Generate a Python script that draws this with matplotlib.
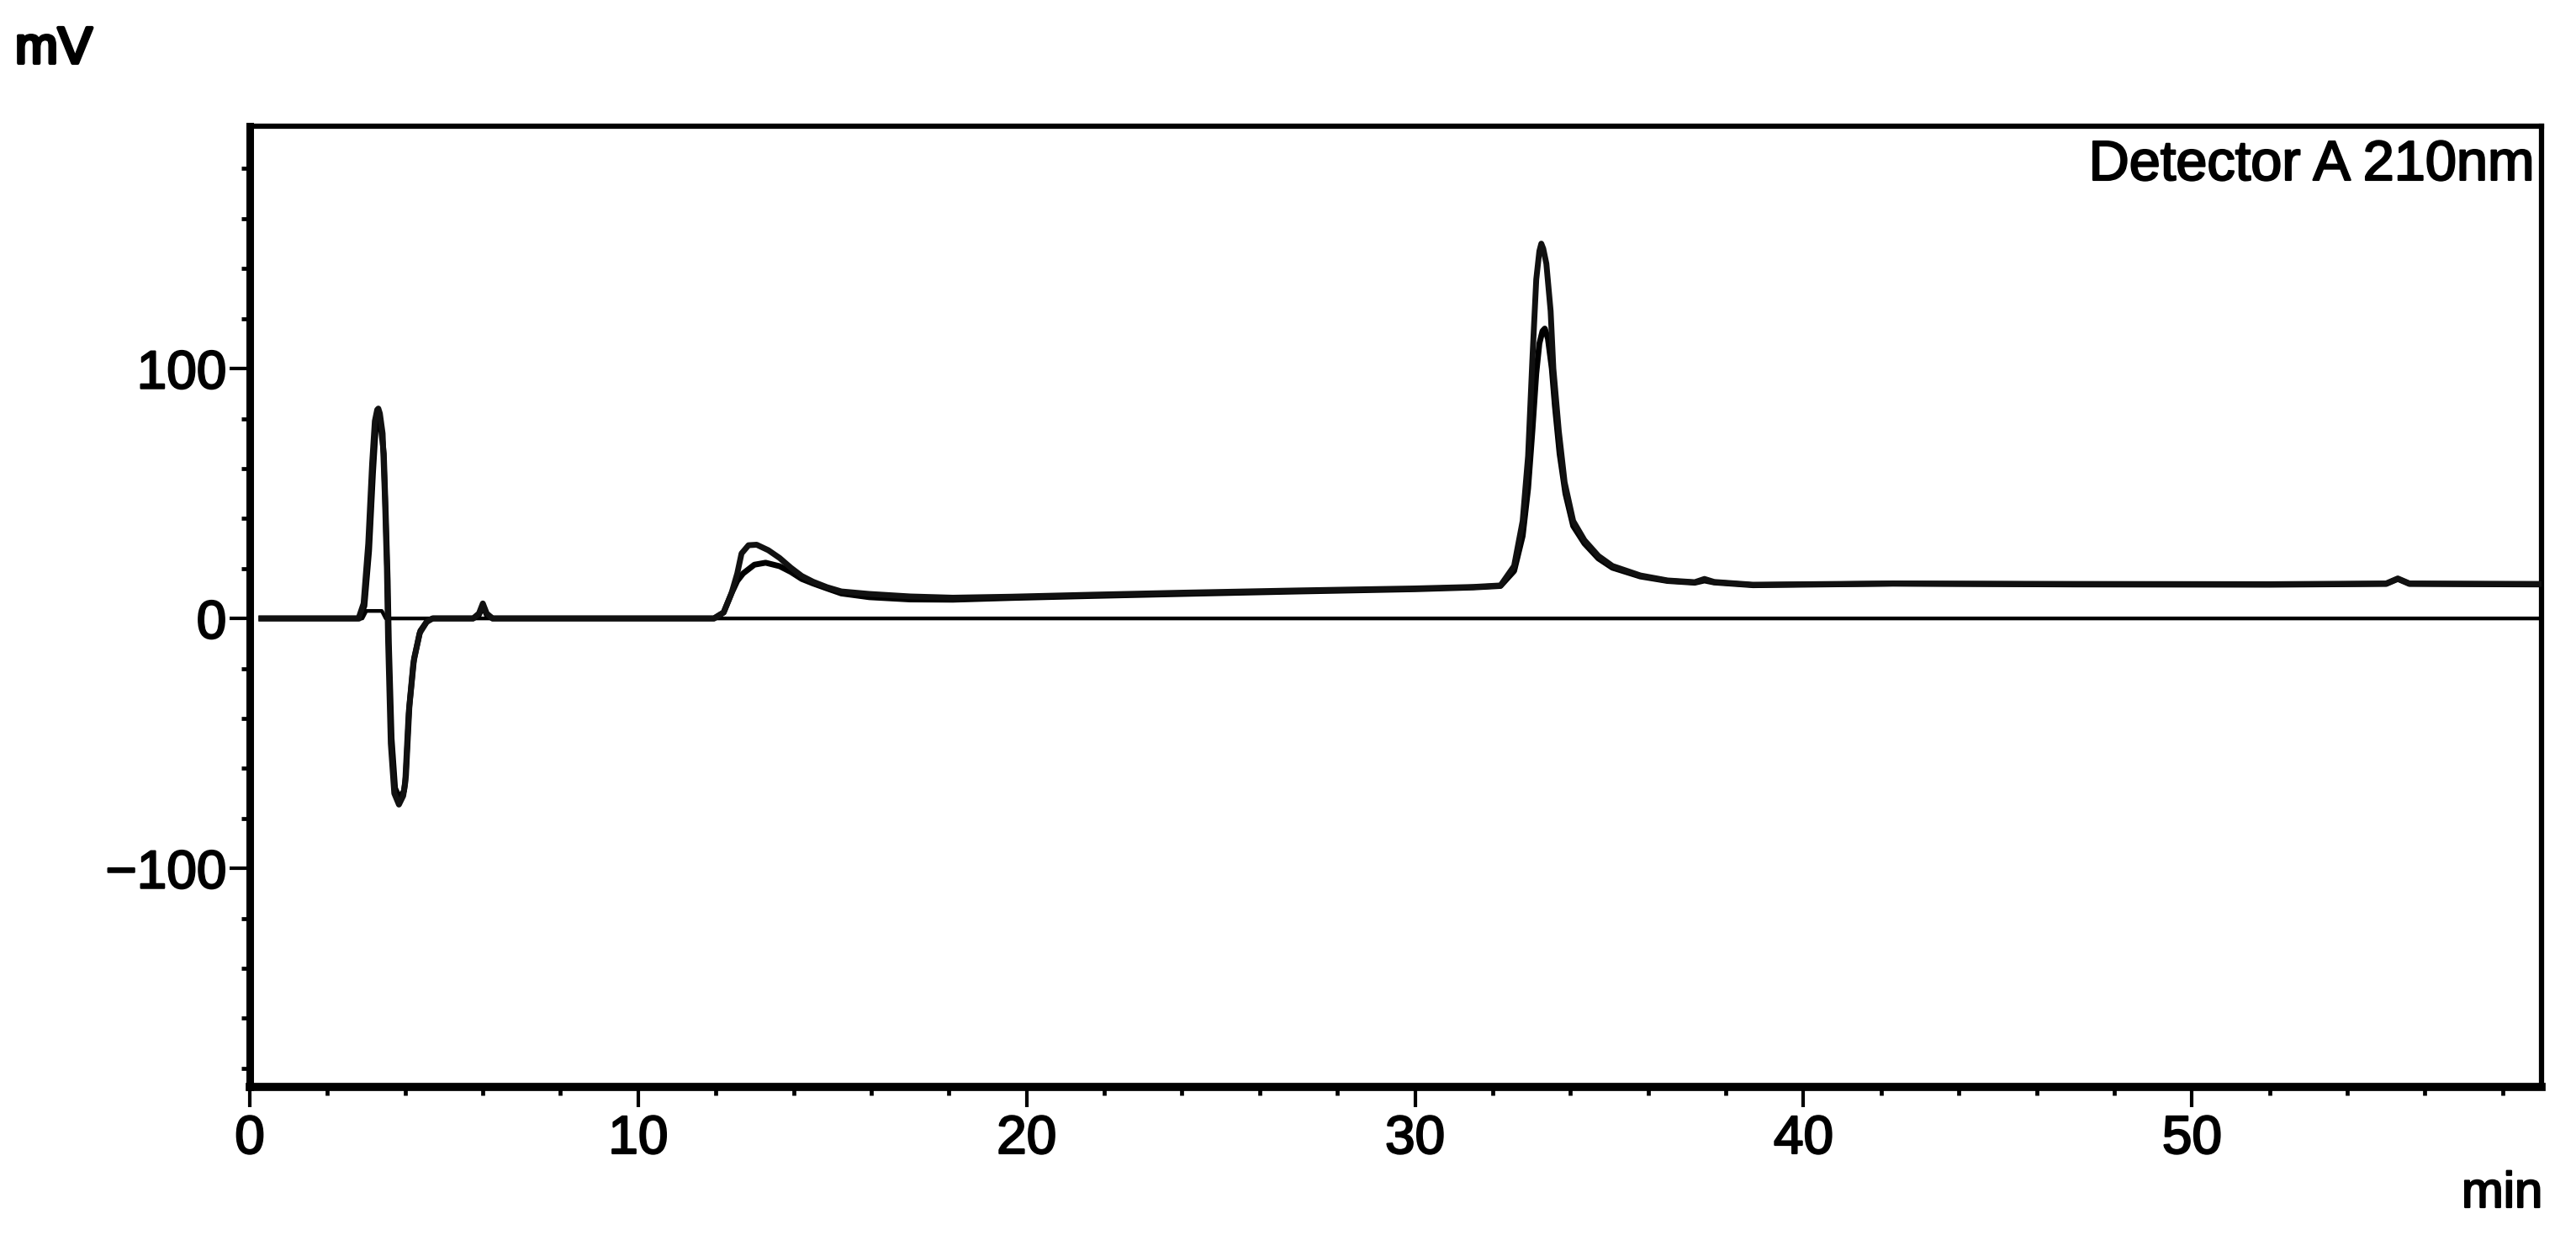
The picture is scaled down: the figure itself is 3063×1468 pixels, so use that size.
import matplotlib
matplotlib.use("Agg")
import matplotlib.pyplot as plt
import matplotlib.patheffects as pe
from matplotlib.ticker import MultipleLocator

plt.rcParams['font.family'] = ['Liberation Sans', 'DejaVu Sans']

# ---- data ----
time_a = [0.3, 2.8, 2.93, 3.05, 3.15, 3.22, 3.28, 3.31, 3.35, 3.42, 3.48, 3.53, 3.56, 3.63,
          3.72, 3.84, 3.95, 4.0, 4.09, 4.21, 4.37, 4.55, 4.7, 5.75, 5.9, 6.0, 6.1, 6.25,
          11.95, 12.2, 12.4, 12.55, 12.66, 12.84, 13.05, 13.35, 13.64, 13.93, 14.21, 14.5,
          14.86, 15.23, 15.95, 17.0, 18.1, 19.6, 21.7, 24.0, 27.0, 30.0, 31.5, 32.2, 32.55,
          32.77, 32.91, 33.02, 33.12, 33.2, 33.25, 33.3, 33.38, 33.49, 33.56, 33.7, 33.85,
          34.07, 34.36, 34.72, 35.08, 35.8, 36.5, 37.2, 37.45, 37.7, 38.7, 42.3, 47.0, 52.0,
          55.0, 55.3, 55.6, 59.0]
signal_a = [0, 0, 6, 30, 62, 79, 83.5, 84, 82, 74, 48, 20, -8, -50,
            -70, -74.5, -71, -66, -38, -18, -6, -1.5, 0, 0, 2, 6, 2, 0,
            0, 2.4, 10, 18, 26, 29.3, 29.5, 27.3, 24.2, 20.3, 17, 14.7,
            12.5, 10.8, 9.8, 8.8, 8.3, 8.7, 9.5, 10.3, 11.2, 12.0, 12.6, 13.2, 21,
            39, 65, 103.5, 135.7, 147, 150, 148, 142, 123, 100, 75, 54.5,
            39, 31.3, 25, 21, 17.2, 15.2, 14.5, 15.8, 14.6, 13.5, 14.0, 13.8, 13.7,
            14.0, 16.0, 14.0, 13.8]

time_b = [0.3, 2.82, 2.95, 3.07, 3.17, 3.24, 3.3, 3.34, 3.38, 3.45, 3.5, 3.55, 3.58, 3.65,
          3.74, 3.86, 3.97, 4.02, 4.11, 4.23, 4.39, 4.57, 4.72, 5.75, 5.9, 6.0, 6.1, 6.25,
          11.95, 12.2, 12.4, 12.55, 12.7, 12.99, 13.28, 13.64, 13.93, 14.21, 14.5, 14.86,
          15.23, 15.95, 17.0, 18.1, 19.6, 21.7, 24.0, 27.0, 30.0, 31.5, 32.2, 32.55, 32.77,
          32.91, 33.02, 33.12, 33.2, 33.28, 33.34, 33.42, 33.52, 33.6, 33.72, 33.87, 34.07,
          34.36, 34.72, 35.08, 35.8, 36.5, 37.2, 37.45, 37.7, 38.7, 42.3, 47.0, 52.0,
          55.0, 55.3, 55.6, 59.0]
signal_b = [0, 0, 5, 27, 58, 76, 80, 79, 76, 66, 42, 15, -10, -48,
            -68, -72, -69, -63, -35, -16, -5, -1, 0, 0, 1.5, 5, 1.5, 0,
            0, 2.4, 10, 15, 18, 21.5, 22.3, 20.9, 18.6, 15.8, 14.0, 12.0,
            10.0, 8.5, 7.6, 7.5, 8.2, 9.0, 9.8, 10.8, 11.7, 12.4, 13.0, 19, 33,
            52, 75, 98, 110, 115, 116, 112, 100, 85, 66, 50, 37,
            30, 24, 20.3, 16.8, 15.0, 14.3, 15.2, 14.4, 13.3, 13.9, 13.6, 13.5,
            13.8, 15.8, 13.8, 13.6]

time_blank = [0.3, 2.9, 3.0, 3.4, 3.5, 59.0]
signal_blank = [0, 0, 3, 3, 0, 0]

x_limits = (0, 59)
y_limits = (-187.5, 197)
detector_label = "Detector A 210nm"
y_unit = "mV"
x_unit = "min"

# ---- figure ----
W, H = 3063, 1468
fig = plt.figure(figsize=(W / 100, H / 100), dpi=100)
left, right, top, bottom = 297, 3022, 150, 1292
ax = fig.add_axes([left / W, 1 - bottom / H, (right - left) / W, (bottom - top) / H])

ax.plot(time_blank, signal_blank, color='black', lw=3.2, solid_joinstyle='round', zorder=2)
ax.plot(time_b, signal_b, color='black', lw=5.0, solid_joinstyle='round', zorder=3)
ax.plot(time_a, signal_a, color='#111111', lw=5.0, solid_joinstyle='round', zorder=4)

ax.set_xlim(*x_limits)
ax.set_ylim(*y_limits)

ax.xaxis.set_major_locator(MultipleLocator(10))
ax.xaxis.set_minor_locator(MultipleLocator(2))
ax.yaxis.set_major_locator(MultipleLocator(100))
ax.yaxis.set_minor_locator(MultipleLocator(20))

ax.tick_params(which='major', length=17, width=3.0, direction='out', labelsize=46,
               top=False, right=False)
ax.tick_params(which='minor', length=7, width=3.4, direction='out', top=False, right=False)
ax.tick_params(axis='x', which='major', pad=6)
ax.tick_params(axis='y', which='major', pad=3)

ax.spines['left'].set_linewidth(6.5)
ax.spines['bottom'].set_linewidth(7)
ax.spines['top'].set_linewidth(4.5)
ax.spines['right'].set_linewidth(4.5)

heavy = [pe.withStroke(linewidth=1.6, foreground='black')]
for lab in ax.get_xticklabels() + ax.get_yticklabels():
    lab.set_path_effects(heavy)

ax.text(0.997, 0.944, detector_label, transform=ax.transAxes, ha='right', va='baseline',
        fontsize=48, path_effects=heavy)
fig.text(18 / W, 1 - 75 / H, y_unit, ha='left', va='baseline', fontsize=44,
         path_effects=[pe.withStroke(linewidth=3, foreground='black')])
fig.text(2927 / W, 1 - 1435 / H, x_unit, ha='left', va='baseline', fontsize=43,
         path_effects=heavy)

fig.savefig('out.png', dpi=100)
